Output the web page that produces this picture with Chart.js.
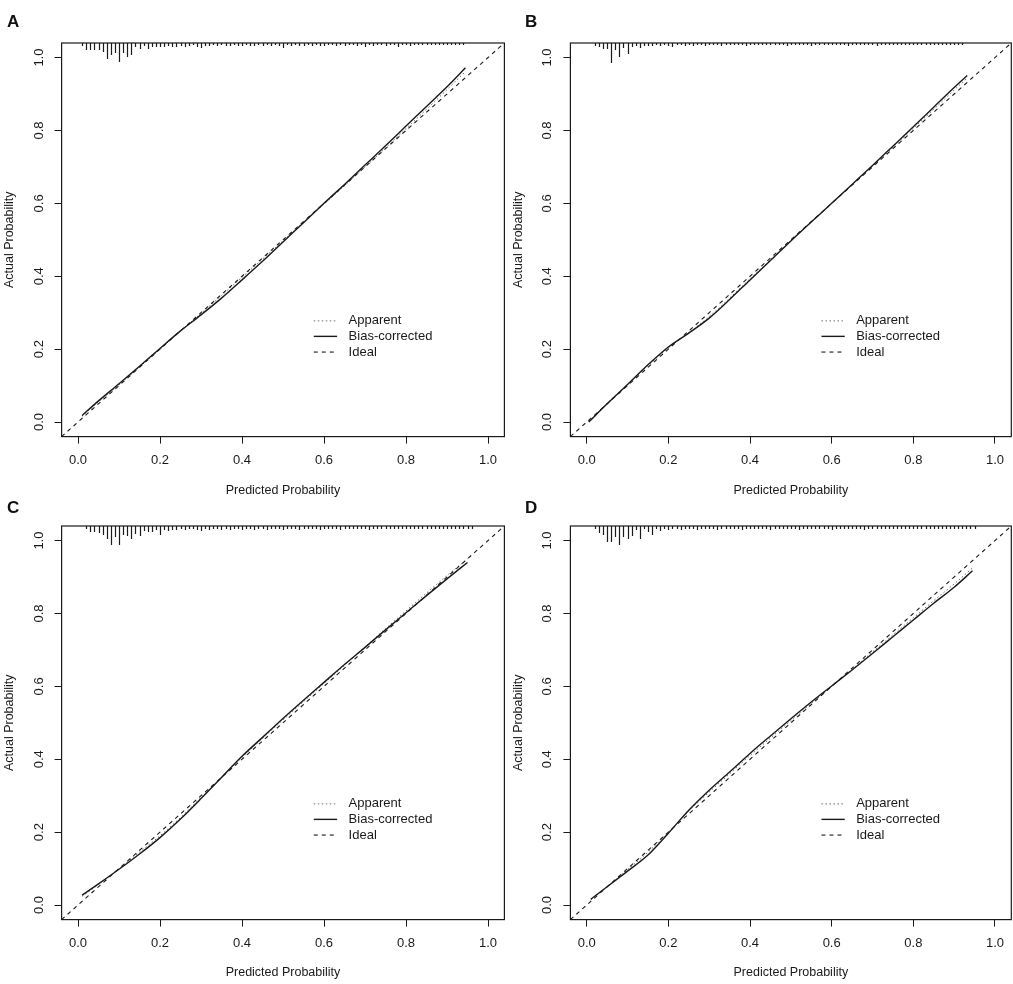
<!DOCTYPE html>
<html><head><meta charset="utf-8">
<script src="https://cdn.jsdelivr.net/npm/chart.js@4"></script>
<style>
html,body{margin:0;padding:0;background:#fff;width:1013px;height:984px;overflow:hidden;position:relative}
canvas{position:absolute}
.lab{position:absolute;font:bold 17px "Liberation Sans",Arial,sans-serif;line-height:17px;color:#111}
</style></head><body>
<canvas id="cA" width="507" height="500" style="left:0px;top:0px"></canvas>
<canvas id="cB" width="504" height="500" style="left:509px;top:0px"></canvas>
<canvas id="cC" width="507" height="501" style="left:0px;top:483px"></canvas>
<canvas id="cD" width="504" height="501" style="left:509px;top:483px"></canvas>
<div class="lab" style="left:7px;top:13px">A</div>
<div class="lab" style="left:525px;top:13px">B</div>
<div class="lab" style="left:7px;top:499px">C</div>
<div class="lab" style="left:525px;top:499px">D</div>
<script>
// ---- data ----
const tickVals = [0, 0.2, 0.4, 0.6, 0.8, 1.0];
const tickLabels = ['0.0', '0.2', '0.4', '0.6', '0.8', '1.0'];
const seriesNames = ['Apparent', 'Bias-corrected', 'Ideal'];
const idealX = [-0.04, 1.04];
const idealY = [-0.04, 1.04];

const predA = [0.01, 0.05, 0.1, 0.15, 0.2, 0.25, 0.3, 0.35, 0.4, 0.45, 0.5, 0.55, 0.6, 0.65, 0.7, 0.75, 0.8, 0.85, 0.9, 0.945];
const biasA = [0.018, 0.058, 0.105, 0.153, 0.202, 0.25, 0.294, 0.34, 0.39, 0.441, 0.494, 0.547, 0.6, 0.652, 0.705, 0.758, 0.812, 0.866, 0.92, 0.972];
const apparentA = [0.016, 0.055, 0.102, 0.151, 0.2, 0.25, 0.298, 0.347, 0.397, 0.447, 0.497, 0.548, 0.598, 0.648, 0.7, 0.752, 0.805, 0.858, 0.912, 0.962];

const predB = [0.005, 0.05, 0.1, 0.15, 0.2, 0.25, 0.3, 0.35, 0.4, 0.45, 0.5, 0.55, 0.6, 0.65, 0.7, 0.75, 0.8, 0.85, 0.9, 0.932];
const biasB = [0.0, 0.05, 0.103, 0.157, 0.206, 0.244, 0.285, 0.336, 0.39, 0.443, 0.497, 0.549, 0.6, 0.652, 0.704, 0.757, 0.81, 0.864, 0.918, 0.951];
const apparentB = [0.002, 0.052, 0.103, 0.155, 0.203, 0.245, 0.289, 0.34, 0.393, 0.445, 0.498, 0.549, 0.6, 0.651, 0.702, 0.754, 0.806, 0.858, 0.911, 0.944];

const predC = [0.01, 0.05, 0.1, 0.15, 0.2, 0.25, 0.3, 0.35, 0.4, 0.45, 0.5, 0.55, 0.6, 0.65, 0.7, 0.75, 0.8, 0.85, 0.9, 0.95];
const biasC = [0.027, 0.058, 0.098, 0.14, 0.185, 0.236, 0.292, 0.35, 0.408, 0.46, 0.512, 0.562, 0.611, 0.66, 0.707, 0.755, 0.802, 0.849, 0.895, 0.94];
const apparentC = [0.024, 0.056, 0.1, 0.145, 0.19, 0.24, 0.295, 0.349, 0.405, 0.457, 0.508, 0.558, 0.608, 0.658, 0.708, 0.758, 0.807, 0.856, 0.904, 0.95];

const predD = [0.01, 0.05, 0.1, 0.15, 0.2, 0.25, 0.3, 0.35, 0.4, 0.45, 0.5, 0.55, 0.6, 0.65, 0.7, 0.75, 0.8, 0.85, 0.9, 0.945];
const biasD = [0.016, 0.05, 0.093, 0.137, 0.197, 0.26, 0.315, 0.365, 0.416, 0.464, 0.511, 0.557, 0.601, 0.645, 0.69, 0.736, 0.782, 0.828, 0.872, 0.917];
const apparentD = [0.014, 0.05, 0.097, 0.145, 0.2, 0.258, 0.31, 0.36, 0.41, 0.458, 0.506, 0.553, 0.6, 0.647, 0.694, 0.741, 0.788, 0.835, 0.881, 0.925];

// rug (distribution of predicted probabilities), bin centres and frequencies
const rugBins = [0.01,0.02,0.03,0.04,0.05,0.06,0.07,0.08,0.09,0.10,0.11,0.12,0.13,0.14,0.15,0.16,0.17,0.18,0.19,0.20,
0.21,0.22,0.23,0.24,0.25,0.26,0.27,0.28,0.29,0.30,0.31,0.32,0.33,0.34,0.35,0.36,0.37,0.38,0.39,0.40,
0.41,0.42,0.43,0.44,0.45,0.46,0.47,0.48,0.49,0.50,0.51,0.52,0.53,0.54,0.55,0.56,0.57,0.58,0.59,0.60,
0.61,0.62,0.63,0.64,0.65,0.66,0.67,0.68,0.69,0.70,0.71,0.72,0.73,0.74,0.75,0.76,0.77,0.78,0.79,0.80,
0.81,0.82,0.83,0.84,0.85,0.86,0.87,0.88,0.89,0.90,0.91,0.92,0.93,0.94,0.95,0.96];
const rugA = [3,7,7,7,7,9,16,12,10,19,10,14,12,4,6,3,6,4,4,4,
4,3,4,4,3,4,3,2,4,5,3,3,2,3,2,3,3,2,3,3,
2,3,3,2,3,2,3,2,3,5,2,3,2,3,3,2,3,2,3,3,
2,2,3,2,3,2,2,3,2,4,2,3,2,2,3,2,2,4,2,2,
3,2,2,2,2,2,2,2,2,2,2,2,2,2,0,0];
const rugB = [0,3,4,6,6,20,7,14,5,11,4,3,5,3,3,3,2,3,2,3,
4,2,2,3,2,3,2,2,3,2,2,2,3,2,2,2,2,2,3,2,
2,2,2,2,2,2,2,2,3,2,2,2,2,2,3,2,2,2,2,2,
2,2,2,3,2,2,2,2,2,2,3,2,2,2,2,2,2,2,2,2,
2,2,2,2,2,2,2,2,2,2,2,2,0,0,0,0];
const rugC = [0,3,6,6,7,9,13,19,11,19,9,10,13,8,10,5,6,6,4,9,
4,5,4,4,3,4,3,3,4,5,3,4,3,3,4,3,4,3,3,4,
3,3,4,3,3,4,3,3,3,4,3,3,3,4,3,3,3,3,4,3,
3,3,3,4,3,3,3,3,3,3,4,3,3,3,3,3,3,3,3,3,
3,3,3,3,3,3,3,3,3,3,3,3,3,3,3,3];
const rugD = [0,3,7,9,16,16,11,19,11,13,10,4,13,3,6,9,3,5,3,4,
3,3,4,3,3,3,4,3,3,3,3,4,3,3,3,3,3,4,3,3,
3,3,3,3,4,3,3,3,3,3,3,4,3,3,3,3,3,3,3,4,
3,3,3,3,3,3,3,4,3,3,3,3,3,3,3,3,3,3,3,3,
3,3,3,3,3,3,3,3,3,3,3,3,3,3,3,0];

// legend placement in data units
const legendLineX = [0.575, 0.632];
const legendTextX = 0.66;
const legendRowsY = [0.2775, 0.235, 0.192];

// ---- drawing ----
const FONT = '"Liberation Sans", Arial, sans-serif';
const INK = '#1a1a1a';
const RUG_UNIT = 1 / 365;
const styles = [
  {color: '#6a6a6a', width: 1, dash: [1.5, 2.5]},
  {color: INK, width: 1.4, dash: []},
  {color: INK, width: 1.1, dash: [4, 4]}
];

const panelPlugin = {
  id: 'panelExtras',
  afterDatasetsDraw(chart) {
    const {ctx, chartArea: a, scales: {x, y}} = chart;
    const cfg = chart.options.plugins.panelExtras;
    ctx.save();
    // rug
    ctx.strokeStyle = INK; ctx.lineWidth = 1.2; ctx.setLineDash([]);
    const top = y.getPixelForValue(1.04);
    cfg.rug.forEach((f, i) => {
      if (!f) return;
      const px = Math.round(x.getPixelForValue(rugBins[i])) + 0.5;
      ctx.beginPath();
      ctx.moveTo(px, top);
      ctx.lineTo(px, y.getPixelForValue(1.04 - f * RUG_UNIT));
      ctx.stroke();
    });
    // legend
    ctx.font = '13px ' + FONT;
    ctx.fillStyle = INK; ctx.textBaseline = 'middle'; ctx.textAlign = 'left';
    seriesNames.forEach((name, i) => {
      const st = styles[i];
      const py = y.getPixelForValue(legendRowsY[i]);
      ctx.strokeStyle = st.color; ctx.lineWidth = st.width; ctx.setLineDash(st.dash);
      ctx.beginPath();
      ctx.moveTo(x.getPixelForValue(legendLineX[0]), py);
      ctx.lineTo(x.getPixelForValue(legendLineX[1]), py);
      ctx.stroke();
      ctx.fillText(name, x.getPixelForValue(legendTextX), py);
    });
    // box
    ctx.setLineDash([]); ctx.strokeStyle = INK; ctx.lineWidth = 1.2;
    ctx.strokeRect(a.left, a.top, a.right - a.left, a.bottom - a.top);
    ctx.restore();
  }
};

function makePanel(id, pred, bias, app, rug, o) {
  const pts = (xs, ys) => xs.map((v, i) => ({x: v, y: ys[i]}));
  const tickFont = {family: FONT, size: 13};
  const titleFont = {family: FONT, size: 12.5};
  new Chart(document.getElementById(id), {
    type: 'line',
    data: {
      datasets: [
        {label: seriesNames[0], data: pts(pred, app), borderColor: styles[0].color, borderWidth: styles[0].width, borderDash: styles[0].dash, pointRadius: 0, cubicInterpolationMode: 'monotone', order: 3},
        {label: seriesNames[1], data: pts(pred, bias), borderColor: styles[1].color, borderWidth: styles[1].width, borderDash: styles[1].dash, pointRadius: 0, cubicInterpolationMode: 'monotone', order: 2},
        {label: seriesNames[2], data: pts(idealX, idealY), borderColor: styles[2].color, borderWidth: styles[2].width, borderDash: styles[2].dash, pointRadius: 0, order: 1}
      ]
    },
    options: {
      responsive: false, animation: false, devicePixelRatio: 1,
      layout: {padding: {left: 0, top: 43, right: o.pr, bottom: 0}},
      plugins: {legend: {display: false}, tooltip: {enabled: false}, panelExtras: {rug}},
      scales: {
        x: {
          type: 'linear', min: -0.04, max: 1.04,
          afterBuildTicks: s => { s.ticks = tickVals.map(v => ({value: v})); },
          afterFit: s => { s.height = o.xh; },
          grid: {display: true, drawOnChartArea: false, drawTicks: true, tickLength: 7, color: INK, lineWidth: 1},
          border: {display: false},
          ticks: {padding: 8.6, font: tickFont, color: INK, autoSkip: false, maxRotation: 0, minRotation: 0,
                  callback: (v, i) => tickLabels[i]},
          title: {display: true, text: 'Predicted Probability', font: titleFont, color: INK, padding: {top: 0, bottom: o.tb}}
        },
        y: {
          type: 'linear', min: -0.04, max: 1.04,
          afterBuildTicks: s => { s.ticks = tickVals.map(v => ({value: v})); },
          afterFit: s => { s.width = o.yw; },
          grid: {display: true, drawOnChartArea: false, drawTicks: true, tickLength: 7, color: INK, lineWidth: 1},
          border: {display: false},
          ticks: {padding: 6.6, font: tickFont, color: INK, autoSkip: false, minRotation: 90, maxRotation: 90, crossAlign: 'center',
                  callback: (v, i) => tickLabels[i]},
          title: {display: true, text: 'Actual Probability', font: titleFont, color: INK, padding: {top: 2.5, bottom: 0}}
        }
      }
    },
    plugins: [panelPlugin]
  });
}

makePanel('cA', predA, biasA, apparentA, rugA, {yw: 61.6, pr: 2.6, xh: 63.4, tb: 1.5});
makePanel('cB', predB, biasB, apparentB, rugB, {yw: 61.4, pr: 1.7, xh: 63.4, tb: 1.5});
makePanel('cC', predC, biasC, apparentC, rugC, {yw: 61.6, pr: 2.6, xh: 64.4, tb: 3.5});
makePanel('cD', predD, biasD, apparentD, rugD, {yw: 61.4, pr: 1.7, xh: 64.4, tb: 3.5});
</script>
</body></html>
